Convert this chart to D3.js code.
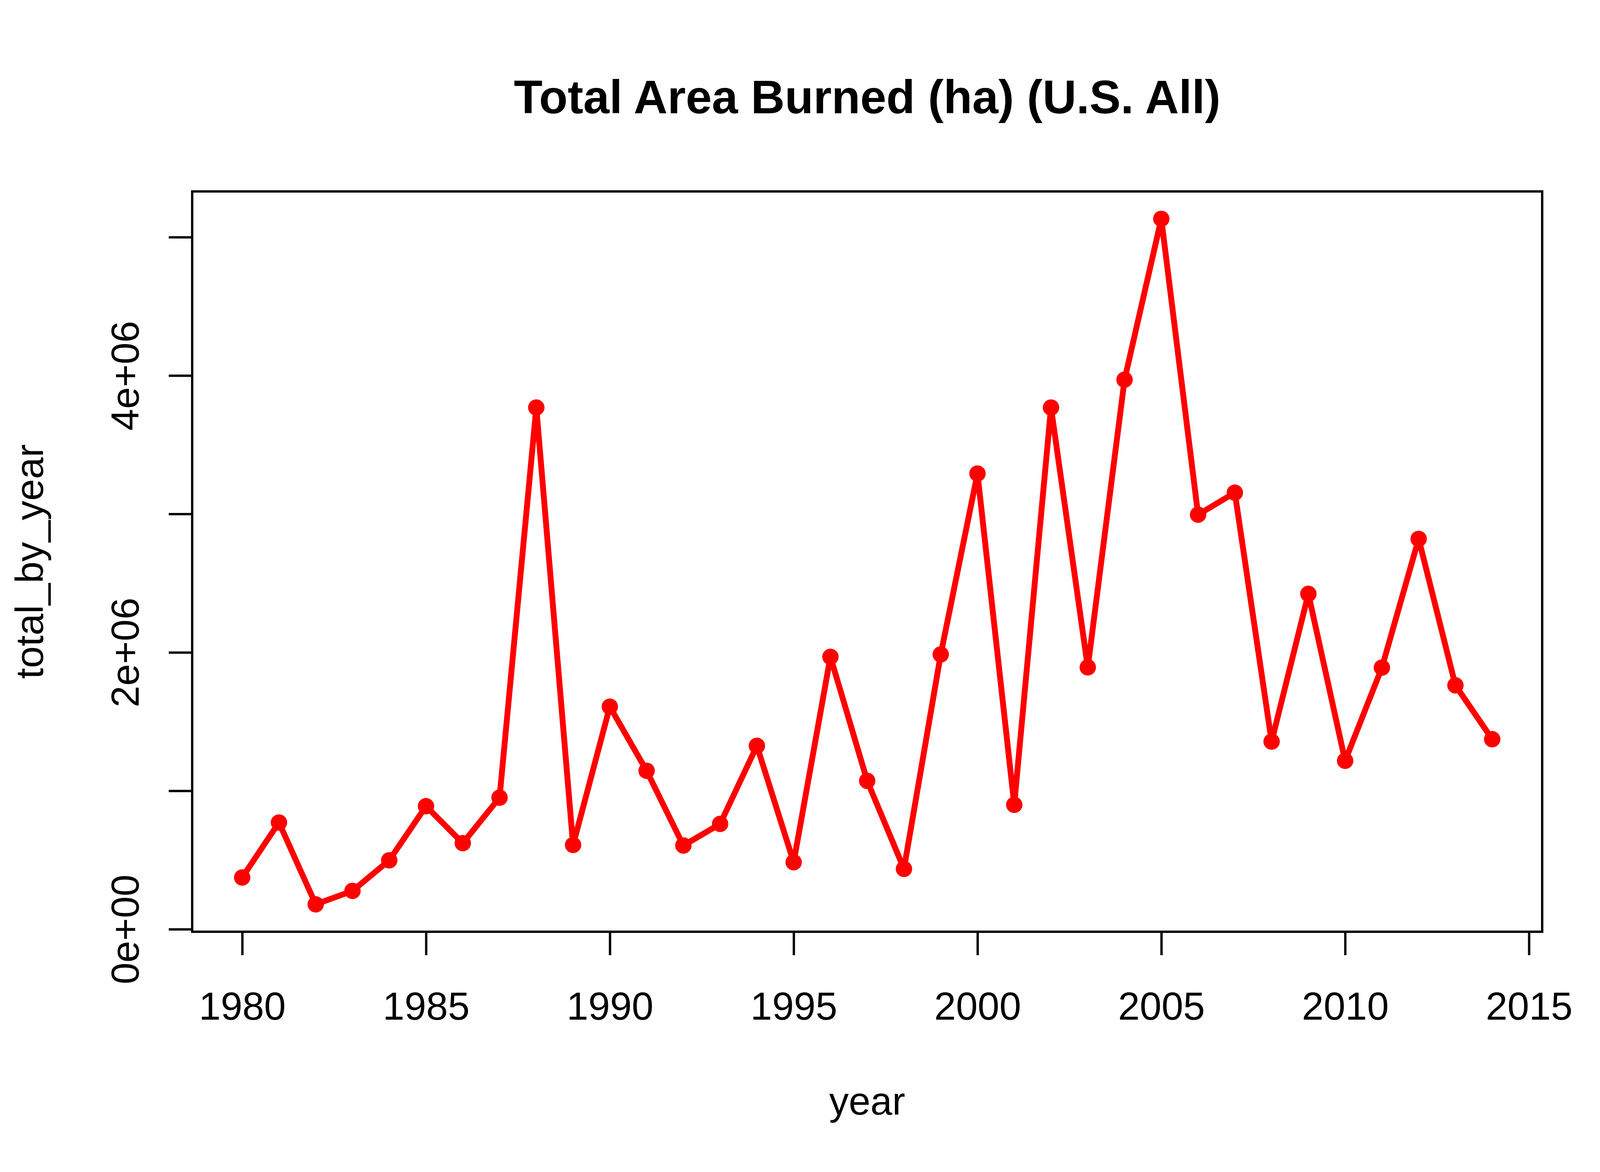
<!DOCTYPE html>
<html>
<head>
<meta charset="utf-8">
<script src="https://cdn.jsdelivr.net/npm/d3@7"></script>
<style>
  html, body { margin: 0; padding: 0; background: #ffffff; }
  svg { display: block; }
  text { font-family: "Liberation Sans", Arial, Helvetica, sans-serif; }
</style>
</head>
<body>
<script>
// ---- data ----
const years = [1980,1981,1982,1983,1984,1985,1986,1987,1988,1989,
               1990,1991,1992,1993,1994,1995,1996,1997,1998,1999,
               2000,2001,2002,2003,2004,2005,2006,2007,2008,2009,
               2010,2011,2012,2013,2014];
const totalByYear = [374000, 771000, 180000, 277000, 498000, 889000, 622000, 951000, 3769000, 609000,
                     1608000, 1145000, 605000, 761000, 1325000, 484000, 1968000, 1072000, 436000, 1985000,
                     3292000, 899000, 3769000, 1892000, 3970000, 5132000, 2995000, 3154000, 1356000, 2423000,
                     1217000, 1890000, 2820000, 1762000, 1373000];
const xTicks = [1980, 1985, 1990, 1995, 2000, 2005, 2010, 2015];
const yTicks = [0, 1000000, 2000000, 3000000, 4000000, 5000000];
const yTickLabels = ["0e+00", "", "2e+06", "", "4e+06", ""];
const titleText = "Total Area Burned (ha) (U.S. All)";
const xLabel = "year";
const yLabel = "total_by_year";

// ---- layout ----
const W = 4200, H = 3000;
const box = { left: 492, right: 3948, top: 490, bottom: 2385 };

const svg = d3.select("body").append("svg")
  .attr("width", W).attr("height", H)
  .attr("viewBox", `0 0 ${W} ${H}`);
svg.append("rect").attr("width", W).attr("height", H).attr("fill", "#ffffff");

// R-style 4% padding of the data range
function rPad(ext) { const d = ext[1] - ext[0]; return [ext[0] - 0.04 * d, ext[1] + 0.04 * d]; }

const x = d3.scaleLinear().domain(rPad(d3.extent(years))).range([box.left, box.right]);
const y = d3.scaleLinear().domain(rPad(d3.extent(totalByYear))).range([box.bottom, box.top]);

const data = years.map((yr, i) => ({ yr, v: totalByYear[i] }));

// line
svg.append("path")
  .datum(data)
  .attr("fill", "none")
  .attr("stroke", "#ff0000")
  .attr("stroke-width", 15)
  .attr("stroke-linejoin", "round")
  .attr("stroke-linecap", "round")
  .attr("d", d3.line().x(d => x(d.yr)).y(d => y(d.v)));

// points
svg.append("g").selectAll("circle")
  .data(data).join("circle")
  .attr("cx", d => x(d.yr))
  .attr("cy", d => y(d.v))
  .attr("r", 21)
  .attr("fill", "#ff0000");

// x axis
const gx = svg.append("g")
  .attr("transform", `translate(0,${box.bottom})`)
  .call(d3.axisBottom(x).tickValues(xTicks).tickFormat(d3.format("d")).tickSize(60).tickSizeOuter(0));
gx.select(".domain").remove();
gx.selectAll(".tick line").attr("stroke", "#000").attr("stroke-width", 6);
gx.selectAll(".tick text")
  .attr("y", 225).attr("dy", 0)
  .attr("fill", "#000")
  .style("font-size", "100px")
  .style("font-family", '"Liberation Sans", Arial, sans-serif');
gx.append("line")
  .attr("x1", x(xTicks[0])).attr("x2", x(xTicks[xTicks.length - 1]))
  .attr("y1", 0).attr("y2", 0)
  .attr("stroke", "#000").attr("stroke-width", 6);

// y axis
const gy = svg.append("g")
  .attr("transform", `translate(${box.left},0)`)
  .call(d3.axisLeft(y).tickValues(yTicks).tickFormat((d, i) => yTickLabels[i]).tickSize(60).tickSizeOuter(0));
gy.select(".domain").remove();
gy.selectAll(".tick line").attr("stroke", "#000").attr("stroke-width", 6);
gy.selectAll(".tick text")
  .attr("x", 0).attr("y", -137).attr("dy", 0)
  .attr("transform", "rotate(-90)")
  .attr("text-anchor", "middle")
  .attr("fill", "#000")
  .style("font-size", "100px")
  .style("font-family", '"Liberation Sans", Arial, sans-serif');
gy.append("line")
  .attr("x1", 0).attr("x2", 0)
  .attr("y1", y(yTicks[0])).attr("y2", y(yTicks[yTicks.length - 1]))
  .attr("stroke", "#000").attr("stroke-width", 6);

// box
svg.append("rect")
  .attr("x", box.left).attr("y", box.top)
  .attr("width", box.right - box.left).attr("height", box.bottom - box.top)
  .attr("fill", "none").attr("stroke", "#000").attr("stroke-width", 6);

// title
svg.append("text")
  .attr("x", (box.left + box.right) / 2).attr("y", 290)
  .attr("text-anchor", "middle")
  .style("font-size", "120px").style("font-weight", "bold")
  .attr("fill", "#000")
  .text(titleText);

// axis titles
svg.append("text")
  .attr("x", (box.left + box.right) / 2).attr("y", 2853)
  .attr("text-anchor", "middle")
  .style("font-size", "100px")
  .attr("fill", "#000")
  .text(xLabel);

svg.append("text")
  .attr("transform", `translate(110,${(box.top + box.bottom) / 2}) rotate(-90)`)
  .attr("text-anchor", "middle")
  .style("font-size", "100px")
  .attr("fill", "#000")
  .text(yLabel);
</script>
</body>
</html>
